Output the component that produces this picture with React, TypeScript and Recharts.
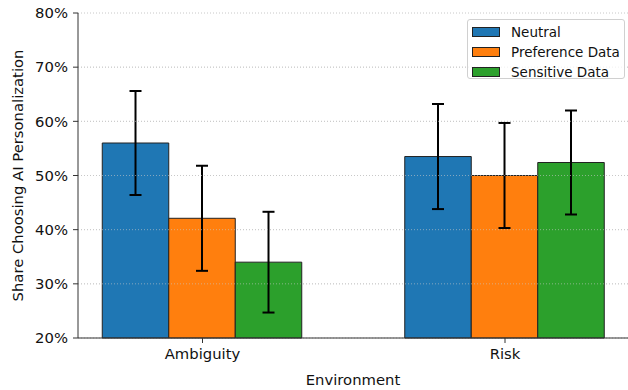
import { BarChart, Bar, XAxis, YAxis, CartesianGrid, ErrorBar, Legend, ReferenceLine } from "recharts";

const environments = ["Ambiguity", "Risk"];
const seriesNames = ["Neutral", "Preference Data", "Sensitive Data"];
const neutral = [56.0, 53.5];
const neutralErr = [9.6, 9.7];
const preference = [42.1, 50.0];
const preferenceErr = [9.7, 9.7];
const sensitive = [34.0, 52.4];
const sensitiveErr = [9.3, 9.6];
const yTicks = [20, 30, 40, 50, 60, 70, 80];

const colors = ["#1f77b4", "#ff7f0e", "#2ca02c"];
const FONT = "DejaVu Sans, sans-serif";

const data = environments.map((env, i) => ({
  x: i,
  env,
  neutral: neutral[i],
  neutralErr: neutralErr[i],
  preference: preference[i],
  preferenceErr: preferenceErr[i],
  sensitive: sensitive[i],
  sensitiveErr: sensitiveErr[i],
}));

const keys = ["neutral", "preference", "sensitive"];

function LegendBox() {
  return (
    <div
      style={{
        position: "absolute",
        left: 467,
        top: 19,
        width: 156,
        height: 58,
        border: "1px solid #d0d0d0",
        borderRadius: 3,
        background: "rgba(255,255,255,0.8)",
        fontFamily: FONT,
        fontSize: 13.5,
        color: "#111",
      }}
    >
      {seriesNames.map((name, i) => (
        <div
          key={name}
          style={{ position: "absolute", left: 4, top: 2 + i * 20, height: 20, display: "flex", alignItems: "center" }}
        >
          <span
            style={{
              display: "inline-block",
              width: 26,
              height: 8,
              background: colors[i],
              border: "1px solid #222",
              marginRight: 11,
            }}
          />
          <span>{name}</span>
        </div>
      ))}
    </div>
  );
}

export default function App() {
  return (
    <div style={{ position: "absolute", left: 0, top: 0, width: 628, height: 390, background: "#fff" }}>
      <BarChart
        width={628}
        height={390}
        data={data}
        margin={{ top: 13, right: 0, bottom: 0, left: 0 }}
        barGap={0}
        barSize={66.5}
      >
        <CartesianGrid vertical={false} stroke="#c8c8c8" strokeDasharray="1 2" />
        <XAxis
          dataKey="x"
          type="number"
          domain={[-0.4116, 1.4066]}
          ticks={[0, 1]}
          allowDataOverflow
          height={52}
          tickFormatter={(v: number) => environments[v] ?? ""}
          tick={{ fontSize: 14.8, fontFamily: FONT, fill: "#111" }}
          tickSize={5}
          tickMargin={5}
          stroke="#333"
          tickLine={{ stroke: "#333" }}
          label={{ value: "Environment", position: "insideBottom", offset: 5, fontSize: 14.8, fontFamily: FONT, fill: "#111" }}
        />
        <YAxis
          domain={[20, 80]}
          ticks={yTicks}
          width={78}
          tickFormatter={(v: number) => `${v}%`}
          tick={{ fontSize: 14.8, fontFamily: FONT, fill: "#111" }}
          tickSize={5}
          tickMargin={5}
          stroke="#333"
          tickLine={{ stroke: "#333" }}
          label={{
            content: () => (
              <text
                x={17}
                y={175.5}
                transform="rotate(-90 17 175.5)"
                textAnchor="middle"
                dominantBaseline="central"
                fontSize={14.8}
                fontFamily={FONT}
                fill="#111"
              >
                Share Choosing AI Personalization
              </text>
            ),
          }}
        />
        {keys.map((k, i) => (
          <Bar
            key={k}
            dataKey={k}
            name={seriesNames[i]}
            fill={colors[i]}
            stroke="#222"
            strokeWidth={1}
            isAnimationActive={false}
          >
            <ErrorBar dataKey={`${k}Err`} width={6} stroke="#000" strokeWidth={2} direction="y" />
          </Bar>
        ))}
        {yTicks.slice(1, -1).map((t) => (
          <ReferenceLine key={t} y={t} stroke="#c8c8c8" strokeOpacity={0.6} strokeDasharray="1 2" />
        ))}
        <Legend content={() => null} />
      </BarChart>
      <LegendBox />
    </div>
  );
}
